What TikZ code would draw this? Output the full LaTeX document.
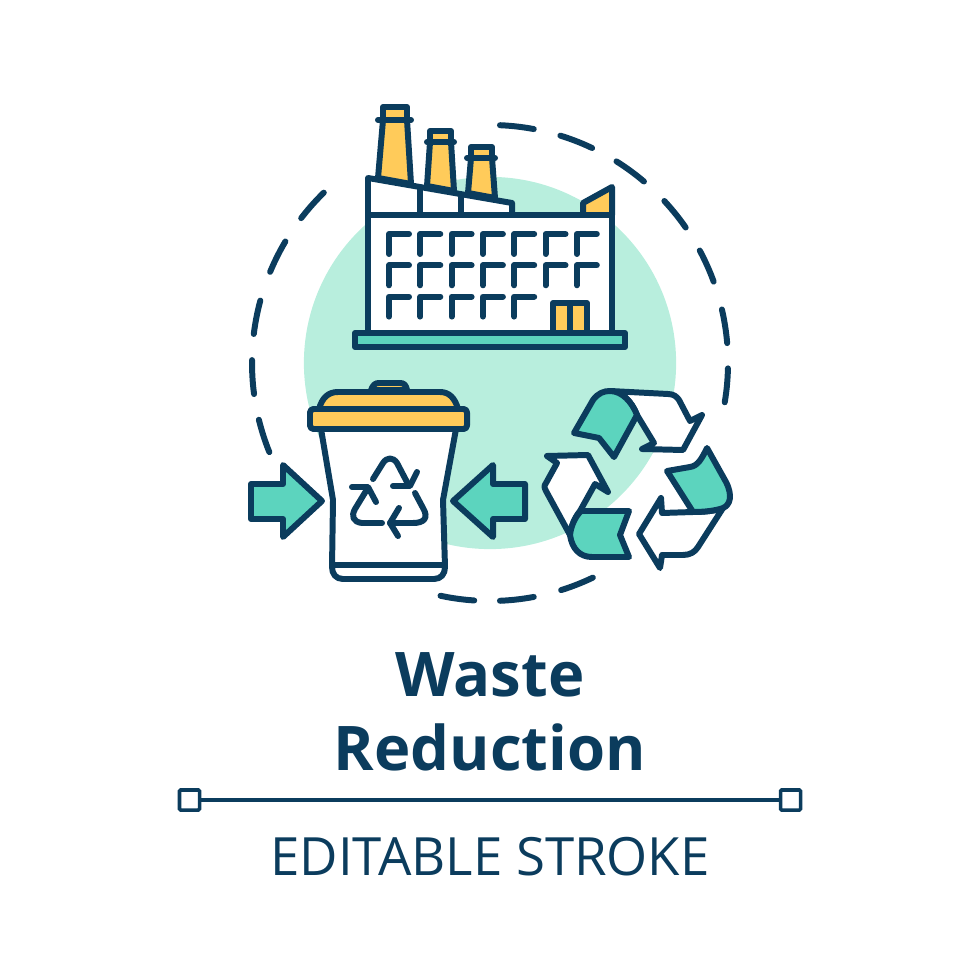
\documentclass[tikz,border=0pt]{standalone}
\usepackage{fontspec}
\setmainfont{Open Sans}
\usetikzlibrary{positioning}
\definecolor{navy}{HTML}{0B3C5D}
\definecolor{mint}{HTML}{B8EEDD}
\definecolor{teal}{HTML}{5CD4BE}
\definecolor{amber}{HTML}{FFCB5A}
\tikzset{
  icon/.style={draw=navy,line width=1.7pt,line join=round,line cap=round},
  thinline/.style={draw=navy,line width=1pt},
  handle/.style={rectangle,draw=navy,line width=1pt,fill=white,minimum size=0.2cm,inner sep=0pt,rounded corners=0.3pt},
  title/.style={text=navy,font=\bfseries\fontsize{17.5}{17.5}\selectfont,inner sep=0pt},
  caption/.style={text=navy,font=\fontsize{15}{15}\selectfont,inner sep=0pt}
}
\begin{document}
\begin{tikzpicture}[x=0.01cm,y=-0.01cm]
\useasboundingbox (0,0) rectangle (980,980);

\fill[mint] (490,363) circle [radius=1.86cm];

\foreach \a in {79.4,64.6,49.7,34.7,20,4.8,-9.5,-72.6,-87.6,-102,134.3,149.3,164.8,179.3,193.8}
    \draw[icon,domain=\a:\a+8.2,samples=8] plot ({490+238*cos(\x)},{363-238*sin(\x)});

\begin{scope}[every path/.style={icon}]
    \filldraw[fill=amber] (383,120) -- (378,178) -- (411,184) -- (407,120) -- cycle;
    \filldraw[fill=amber] (383,120) -- (383,107) -- (407,107) -- (407,120) -- cycle;
    \draw (378,120) -- (411,120);
    \filldraw[fill=amber] (430,142) -- (427,186) -- (454,191) -- (451,142) -- cycle;
    \filldraw[fill=amber] (430,142) -- (430,131) -- (451,131) -- (451,142) -- cycle;
    \draw (427,142) -- (454,142);
    \filldraw[fill=amber] (471,158) -- (468,193) -- (495,198) -- (492,158) -- cycle;
    \filldraw[fill=amber] (471,158) -- (471,147) -- (492,147) -- (492,158) -- cycle;
    \draw (467,158) -- (495,158);

    \filldraw[fill=white] (368,178) -- (512,203) -- (512,215) -- (368,215) -- cycle;
    \filldraw[fill=amber] (583,215) -- (583,203) -- (612,187) -- (612,215) -- cycle;
    \draw (420,188) -- (420,215);
    \draw (461,197) -- (461,215);
    \filldraw[fill=white] (368,215) rectangle (612,333);

    \foreach \c in {0,...,6}
        \foreach \r in {0,1}
            \draw ({389+31.3*\c+20},{234+31.3*\r}) -- ({389+31.3*\c},{234+31.3*\r}) -- ({389+31.3*\c},{234+31.3*\r+20});
    \foreach \c in {0,...,4}
        \draw ({389+31.3*\c+20},{234+62.6}) -- ({389+31.3*\c},{234+62.6}) -- ({389+31.3*\c},{234+62.6+20});

    \filldraw[fill=amber] (553,333) -- (553,303) -- (587,303) -- (587,333);
    \draw (570,303) -- (570,333);
    \filldraw[fill=teal] (355,333) rectangle (625,347);

    \filldraw[fill=amber] (371,390) .. controls (373,385) and (375,383) .. (379,383) -- (400,383) .. controls (404,383) and (406,385) .. (407,390) -- cycle;
    \filldraw[fill=amber] (319,409) .. controls (322,398) and (328,392) .. (338,392) -- (440,392) .. controls (449,392) and (455,398) .. (458,409) -- cycle;
    \filldraw[fill=white] (321,429) -- (333,500) -- (332,567) .. controls (332,574) and (336,579) .. (343,579) -- (434,579) .. controls (441,579) and (445,574) .. (445,567) -- (443,500) -- (456,429) -- cycle;
    \draw (333,565) -- (444,565);
    \filldraw[fill=amber,rounded corners=1pt] (310,409) rectangle (467,429);

    \draw (373,479) -- (383,463) .. controls (387,457) and (393,457) .. (397,463) -- (408,484);
    \draw (393,486) -- (410,486) -- (417,472);
    \draw (415,493) -- (423,508) .. controls (429,518) and (424,523) .. (413,523) -- (390,523);
    \draw (399,508) -- (390,523) -- (398,536);
    \draw (382,523) -- (362,523) .. controls (353,522) and (351,516) .. (355,509) -- (366,491);
    \draw (352,487) -- (368,487) -- (376,502);

    \filldraw[fill=teal] (251,484) -- (283,484) -- (283,465) -- (322,501) -- (283,537) -- (283,519) -- (251,519) -- cycle;
    \filldraw[fill=teal] (525,484) -- (493,484) -- (493,465) -- (453,501) -- (493,537) -- (493,519) -- (525,519) -- cycle;

    \filldraw[fill=white] (610,391) -- (668,394) .. controls (674,394) and (677,397) .. (679,400) -- (690,421) -- (702,415) -- (683,450) -- (642,449) -- (654,443) -- (637,415) .. controls (632,402) and (622,391) .. (610,391) -- cycle;
    \filldraw[fill=teal] (574,433) -- (593,400) .. controls (598,393) and (604,391) .. (610,391) .. controls (622,391) and (632,402) .. (637,415) -- (614,457) -- (599,438) -- cycle;

    \filldraw[fill=white] (693,512) -- (662,513) -- (661,498) -- (639,534) -- (660,568) -- (662,555) -- (683,555) .. controls (690,555) and (695,552) .. (698,547) -- (723,508) .. controls (715,511) and (703,512) .. (693,512) -- cycle;
    \filldraw[fill=teal] (667,471) -- (690,467) .. controls (698,466) and (702,458) .. (707,448) -- (726,482) .. controls (733,496) and (730,505) .. (723,508) .. controls (715,511) and (703,512) .. (693,512) -- cycle;

    \filldraw[fill=white] (570,535) -- (546,491) .. controls (544,487) and (544,486) .. (546,483) -- (557,463) -- (547,456) -- (588,455) -- (608,492) -- (595,484) -- (580,511) .. controls (575,517) and (571,526) .. (570,535) -- cycle;
    \filldraw[fill=teal] (629,511) -- (581,511) .. controls (575,517) and (571,526) .. (570,535) .. controls (572,549) and (580,557) .. (592,557) -- (629,557) -- (620,535) -- cycle;
\end{scope}

\node[title] (waste) at (490,675) {Waste};
\node[title] (reduction) at (490,747) {Reduction};
\node[handle] (boxl) at (189.5,800) {};
\node[handle] (boxr) at (790.5,800) {};
\draw[thinline] (boxl) -- (boxr);
\node[caption] (stroke) at (490,857) {EDITABLE STROKE};
\end{tikzpicture}
\end{document}
